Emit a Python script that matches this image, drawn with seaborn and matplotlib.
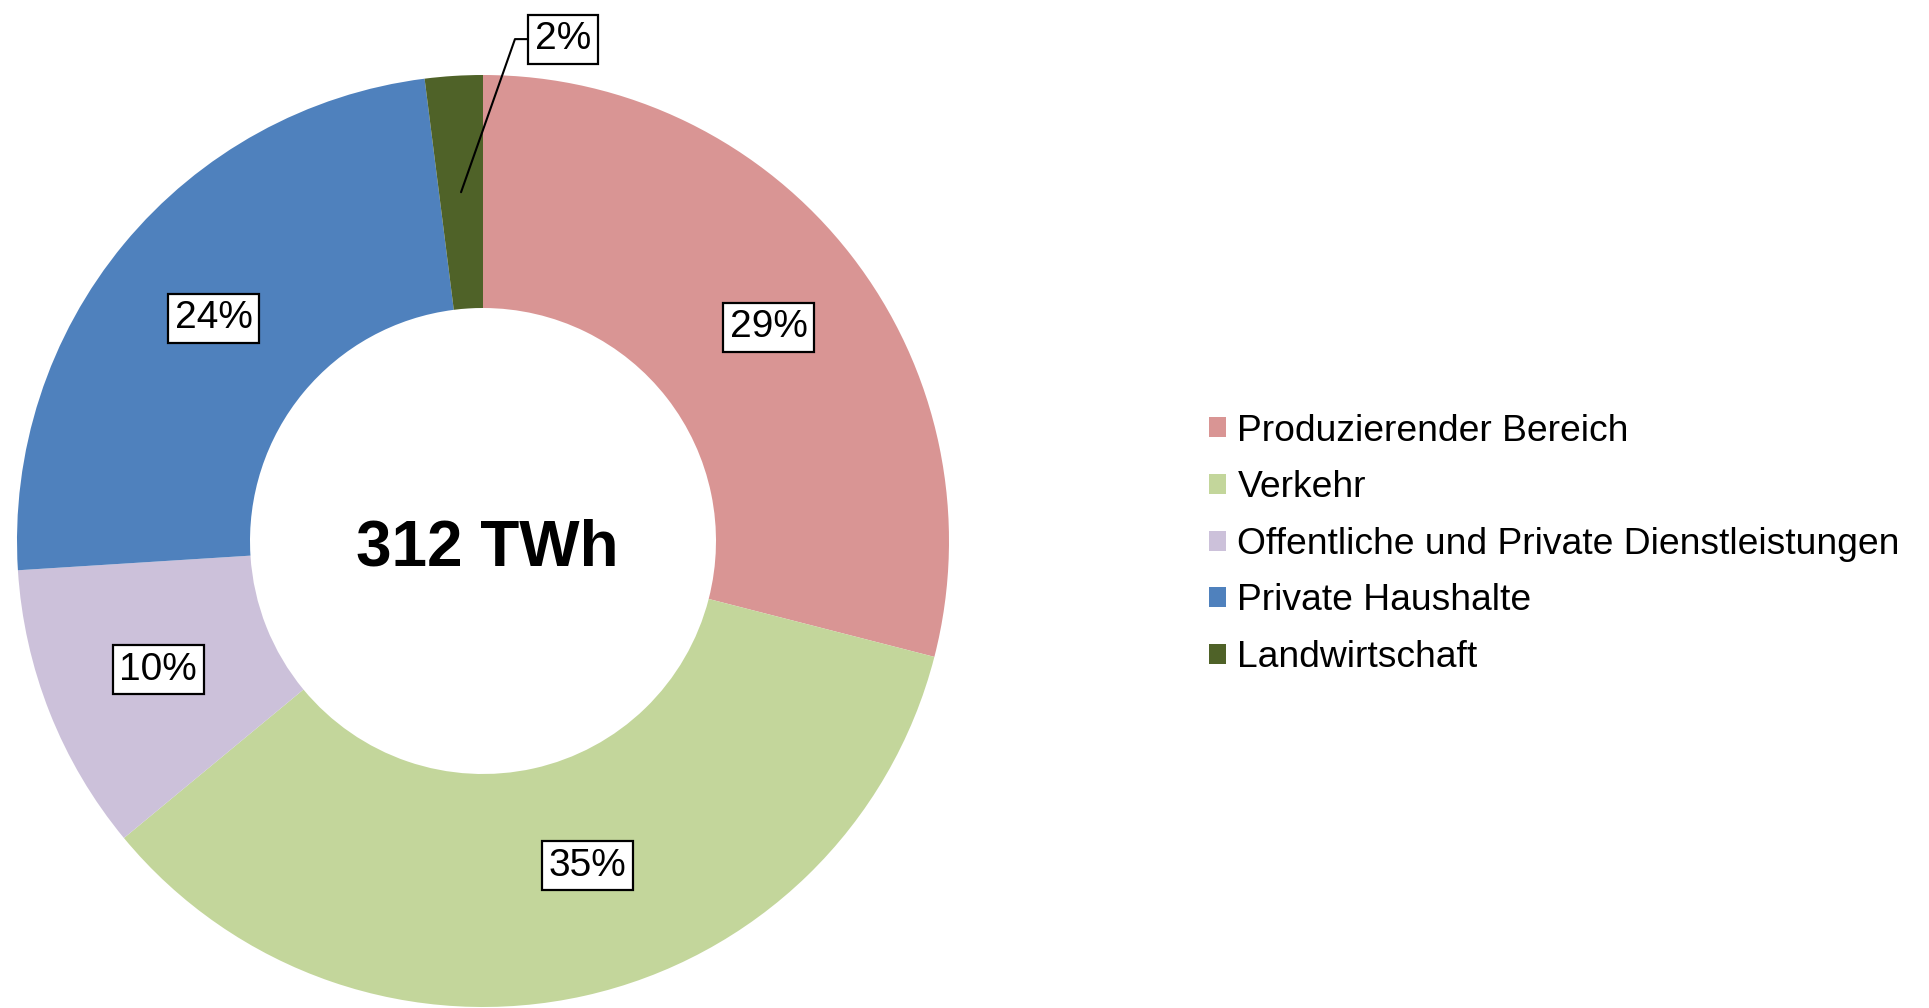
import numpy as np
import matplotlib
matplotlib.use("Agg")
import matplotlib.pyplot as plt
import seaborn as sns

# data
sectors = ["Produzierender Bereich", "Verkehr",
           "Offentliche und Private Dienstleistungen",
           "Private Haushalte", "Landwirtschaft"]
shares = [29, 35, 10, 24, 2]
total_label = "312 TWh"

colors = ["#D99594", "#C3D69B", "#CCC1DA", "#4F81BD", "#4F6228"]
# small angle tweaks (degrees) for labels moved off centre, as in the original
label_shift = [-1.0, 5.3, 0, 0, 0]
label_r = [0.765, 0.732, 0.75, 0.75, 0.75]

sns.set_theme(style="white")
plt.rcParams["font.family"] = ["Liberation Sans", "DejaVu Sans"]
plt.rcParams["text.color"] = "black"

fig = plt.figure(figsize=(19.29, 10.08), dpi=100)
W, H = 1929, 1008
cx, cy, R = 483, 541, 466
ax = fig.add_axes([(cx - R) / W, (H - cy - R) / H, 2 * R / W, 2 * R / H])

wedges, _ = ax.pie(shares, colors=colors, startangle=90, counterclock=False,
                   radius=1.0, wedgeprops=dict(width=0.5, linewidth=0))
ax.set_xlim(-1, 1)
ax.set_ylim(-1, 1)
ax.set_aspect("equal")
ax.axis("off")

box = dict(boxstyle="square,pad=0.17", fc="white", ec="black", lw=1.6)
for w, val, shift, r in zip(wedges, shares, label_shift, label_r):
    ang = np.deg2rad((w.theta1 + w.theta2) / 2 + shift)
    x, y = r * np.cos(ang), r * np.sin(ang)
    if val < 5:
        ax.annotate(f"{val}%", xy=(x, y), xytext=(0.172, 1.077),
                    ha="center", va="center", fontsize=28, bbox=box,
                    annotation_clip=False,
                    arrowprops=dict(arrowstyle="-", color="black", lw=1.5,
                                    shrinkA=0, shrinkB=0,
                                    connectionstyle="angle,angleA=0,angleB=70.6,rad=0"))
    else:
        ax.text(x, y, f"{val}%", ha="center", va="center", fontsize=28, bbox=box)

ax.text(0.01, -0.016, total_label, ha="center", va="center", fontsize=46, fontweight="bold")

leg = fig.legend(wedges, sectors, loc="center left", bbox_to_anchor=(0.627, 0.460),
                 frameon=False, fontsize=26.8, handlelength=0.45, handleheight=0.45,
                 handletextpad=0.3, labelspacing=0.58, borderpad=0, borderaxespad=0)

fig.savefig("out.png", dpi=100, facecolor="white")
